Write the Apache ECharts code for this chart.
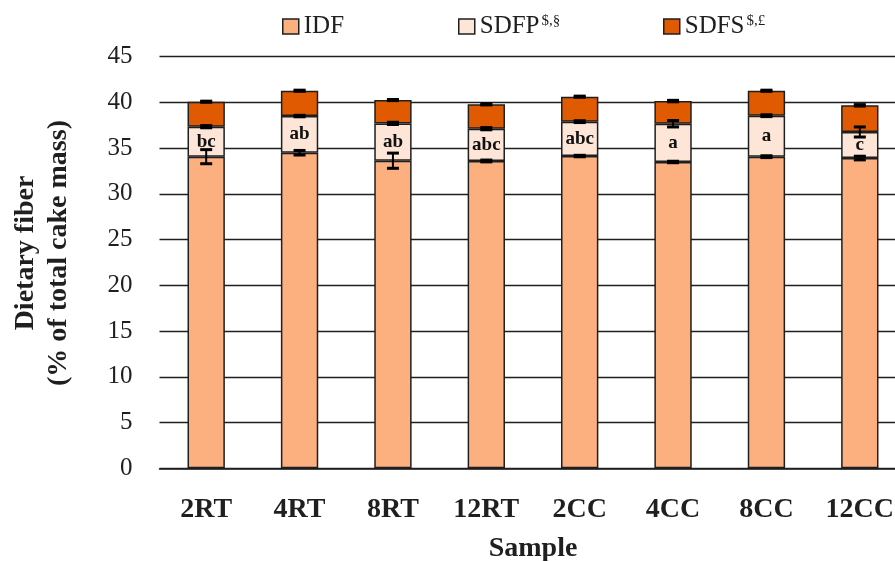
<!DOCTYPE html>
<html>
<head>
<meta charset="utf-8">
<script src="https://cdn.jsdelivr.net/npm/echarts@6/dist/echarts.min.js"></script>
<style>html,body{margin:0;padding:0;background:#fff}#c{width:895px;height:561px}</style>
</head>
<body>
<div id="c"></div>
<script>
var categories = ['2RT', '4RT', '8RT', '12RT', '2CC', '4CC', '8CC', '12CC'];
var idf = [34.07, 34.50, 33.63, 33.60, 34.14, 33.49, 34.07, 33.92];
var sdfp = [3.28, 4.01, 4.08, 3.53, 3.76, 4.18, 4.48, 2.85];
var sdfs = [2.73, 2.77, 2.55, 2.66, 2.73, 2.48, 2.73, 2.91];
var idfErr = [0.77, 0.25, 0.83, 0.10, 0.08, 0.08, 0.10, 0.20];
var sdfpErr = [0.12, 0.08, 0.12, 0.12, 0.10, 0.35, 0.10, 0.55];
var sdfsErr = [0.06, 0.06, 0.06, 0.06, 0.06, 0.08, 0.06, 0.08];
var sdfpLetters = ['bc', 'ab', 'ab', 'abc', 'abc', 'a', 'a', 'c'];
var yTicks = [0, 5, 10, 15, 20, 25, 30, 35, 40, 45];

var FONT = '"Liberation Serif", "DejaVu Serif", serif';
var INK = '#1f1f1f';
var colors = {IDF: '#FCB07F', SDFP: '#FDE5D8', SDFS: '#DF5A00'};

var errData = [];
categories.forEach(function (c, i) {
  var t1 = idf[i], t2 = t1 + sdfp[i], t3 = t2 + sdfs[i];
  errData.push([i, t1, idfErr[i]]);
  errData.push([i, t2, sdfpErr[i]]);
  errData.push([i, t3, sdfsErr[i]]);
});

var chart = echarts.init(document.getElementById('c'), null, {renderer: 'canvas'});

function legendCfg(name, left) {
  return {
    data: [name], left: left, top: 9, itemWidth: 16, itemHeight: 15, itemGap: 6,
    icon: 'rect',
    itemStyle: {borderColor: INK, borderWidth: 1.5},
    textStyle: {
      fontFamily: FONT, fontSize: 25, color: INK,
      rich: {
        n: {fontFamily: FONT, fontSize: 25, color: INK, verticalAlign: 'bottom'},
        s: {fontFamily: FONT, fontSize: 15, color: INK, verticalAlign: 'top', padding: [0, 0, 8, 2]}
      }
    },
    formatter: function (n) {
      if (n === 'SDFP') return '{n|SDFP}{s|$,§}';
      if (n === 'SDFS') return '{n|SDFS}{s|$,£}';
      return '{n|' + n + '}';
    }
  };
}

var barBase = {
  type: 'bar', stack: 'total', barWidth: '40%',
  itemStyle: {borderColor: INK, borderWidth: 1.5},
  emphasis: {disabled: true}
};

chart.setOption({
  animation: false,
  legend: [legendCfg('IDF', 277), legendCfg('SDFP', 453), legendCfg('SDFS', 658)],
  grid: {left: 159.5, top: 56.7, width: 747, height: 411.6, outerBoundsMode: 'none', containLabel: false},
  xAxis: {
    type: 'category', data: categories,
    axisLine: {lineStyle: {color: INK, width: 1.5}},
    axisTick: {show: false},
    axisLabel: {fontFamily: FONT, fontSize: 28, fontWeight: 'bold', color: INK, margin: 27},
    name: 'Sample', nameLocation: 'middle', nameGap: 66,
    nameTextStyle: {fontFamily: FONT, fontSize: 28, fontWeight: 'bold', color: INK}
  },
  yAxis: {
    type: 'value', min: 0, max: 45, interval: 5,
    axisLine: {show: false}, axisTick: {show: false},
    splitLine: {lineStyle: {color: INK, width: 1.3}},
    axisLabel: {fontFamily: FONT, fontSize: 25, color: INK, margin: 27,
      formatter: function (v) { return yTicks.indexOf(v) >= 0 ? String(v) : ''; }}
  },
  graphic: [{
    type: 'text', x: 42, y: 253, rotation: Math.PI / 2,
    style: {
      text: 'Dietary fiber\n(% of total cake mass)',
      fontFamily: FONT, fontSize: 28, fontWeight: 'bold', fill: INK,
      align: 'center', verticalAlign: 'middle', lineHeight: 33
    }
  }],
  series: [
    Object.assign({}, barBase, {name: 'IDF', data: idf, itemStyle: Object.assign({}, barBase.itemStyle, {color: colors.IDF})}),
    Object.assign({}, barBase, {name: 'SDFP', data: sdfp, itemStyle: Object.assign({}, barBase.itemStyle, {color: colors.SDFP}),
      label: {show: true, position: 'inside', fontFamily: FONT, fontSize: 19, fontWeight: 'bold', color: '#111',
        formatter: function (p) { return sdfpLetters[p.dataIndex]; }}}),
    Object.assign({}, barBase, {name: 'SDFS', data: sdfs, itemStyle: Object.assign({}, barBase.itemStyle, {color: colors.SDFS})}),
    {
      type: 'custom', name: 'err', z: 10, silent: true,
      data: errData,
      renderItem: function (params, api) {
        var x = api.value(0), v = api.value(1), e = api.value(2);
        var hi = api.coord([x, v + e]), lo = api.coord([x, v - e]);
        var cx = hi[0], hw = 6;
        var st = {stroke: '#000', lineWidth: 3};
        return {
          type: 'group',
          children: [
            {type: 'line', shape: {x1: cx, y1: hi[1], x2: cx, y2: lo[1]}, style: {stroke: '#000', lineWidth: 2}},
            {type: 'line', shape: {x1: cx - hw, y1: hi[1], x2: cx + hw, y2: hi[1]}, style: st},
            {type: 'line', shape: {x1: cx - hw, y1: lo[1], x2: cx + hw, y2: lo[1]}, style: st}
          ]
        };
      }
    }
  ]
});
</script>
</body>
</html>
